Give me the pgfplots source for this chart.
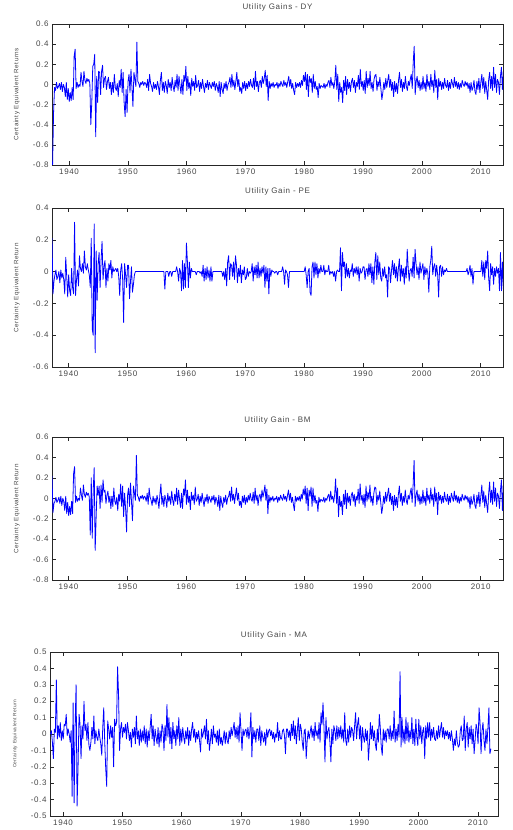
\documentclass[border=0pt]{standalone}
\usepackage{fontspec}
\setmainfont{Liberation Sans}
\newfontfamily\plotfont[LetterSpace=8]{Liberation Sans}
\usepackage{pgfplots}
\usepackage{pgfplotstable}
\pgfplotsset{compat=1.18}
\definecolor{txt}{RGB}{70,70,70}
% values in hundredths, 6 per year (one line per year)
\pgfplotstableread[row sep=\\]{
y\\
-80\\ -28\\ -3\\ -6\\ 2\\ -4\\
-2\\ 1\\ -5\\ 2\\ -7\\ 0\\
-3\\ -12\\ 2\\ -15\\ -4\\ -17\\
-8\\ -16\\ -3\\ -15\\ 28\\ 35\\
-4\\ 2\\ -3\\ 0\\ -2\\ 12\\
3\\ -2\\ 13\\ 4\\ 1\\ 6\\
3\\ 5\\ 1\\ -40\\ -18\\ 18\\
20\\ 30\\ -52\\ 8\\ -18\\ 13\\
12\\ -10\\ 13\\ 19\\ -3\\ 6\\
8\\ -5\\ 3\\ 7\\ -4\\ 2\\
-10\\ 2\\ -8\\ 10\\ -3\\ -6\\
1\\ -12\\ 4\\ -3\\ 15\\ -8\\
12\\ -18\\ -32\\ -5\\ -28\\ 3\\
10\\ -8\\ 15\\ -3\\ -22\\ 12\\
5\\ -2\\ 42\\ 3\\ 1\\ -3\\
2\\ 0\\ 3\\ -1\\ 2\\ 1\\
-3\\ 5\\ -6\\ 10\\ 1\\ -2\\
-7\\ 2\\ -4\\ 0\\ -5\\ 3\\
-2\\ -10\\ 4\\ 12\\ -6\\ 2\\
-8\\ 3\\ -1\\ -9\\ 5\\ -3\\
2\\ -6\\ 7\\ -2\\ -7\\ 4\\
-3\\ 10\\ -6\\ 8\\ -1\\ -9\\
5\\ -10\\ 9\\ 3\\ 18\\ -6\\
8\\ -4\\ 2\\ -11\\ 6\\ -2\\
3\\ -6\\ 9\\ -3\\ -1\\ 4\\
-7\\ 2\\ -4\\ 5\\ -2\\ -8\\
1\\ -3\\ 4\\ -5\\ 2\\ -1\\
-4\\ 2\\ -2\\ 3\\ -6\\ 1\\
-2\\ -8\\ 3\\ -12\\ 2\\ -5\\
-9\\ 1\\ -4\\ 3\\ -6\\ 0\\
2\\ 7\\ -3\\ 10\\ -2\\ 4\\
-5\\ 3\\ 12\\ -2\\ 5\\ -7\\
-3\\ -9\\ 2\\ -4\\ 3\\ -6\\
1\\ -4\\ 3\\ -2\\ 5\\ -1\\
-3\\ 6\\ -5\\ 13\\ -2\\ 3\\
-7\\ 2\\ 4\\ -3\\ 8\\ 1\\
6\\ 14\\ -2\\ 9\\ -16\\ 3\\
-4\\ 1\\ -2\\ 2\\ -3\\ 0\\
-1\\ 2\\ -4\\ 1\\ -2\\ 3\\
0\\ -2\\ 4\\ -1\\ 2\\ -3\\
3\\ 8\\ -2\\ 5\\ -4\\ 1\\
-6\\ -10\\ 2\\ -3\\ 1\\ -2\\
2\\ -3\\ 4\\ -1\\ 9\\ 3\\
12\\ -5\\ 10\\ -12\\ 8\\ 2\\
6\\ -8\\ 10\\ -4\\ 3\\ -5\\
-2\\ -13\\ 1\\ -4\\ -1\\ -2\\
-3\\ 1\\ -4\\ 0\\ -2\\ 2\\
4\\ -3\\ 7\\ -1\\ 2\\ -4\\
3\\ 19\\ -5\\ 10\\ -17\\ 2\\
-8\\ -3\\ -18\\ 4\\ -6\\ 8\\
-10\\ 5\\ -4\\ 2\\ -7\\ 3\\
6\\ -3\\ 4\\ -8\\ 2\\ -2\\
9\\ -5\\ 15\\ -2\\ 3\\ -6\\
4\\ -9\\ 13\\ -3\\ 6\\ -1\\
13\\ -4\\ 2\\ -7\\ 5\\ 9\\
10\\ -6\\ 3\\ -2\\ 7\\ -4\\
-15\\ -8\\ 2\\ -5\\ 6\\ -3\\
4\\ 10\\ -3\\ 5\\ -6\\ 2\\
-12\\ 3\\ -7\\ 1\\ -9\\ 4\\
12\\ -3\\ 5\\ -7\\ 2\\ -4\\
8\\ -2\\ -6\\ 3\\ -1\\ 5\\
10\\ -4\\ 22\\ 38\\ -10\\ 3\\
8\\ -3\\ 4\\ -6\\ 2\\ -5\\
8\\ -4\\ 2\\ -7\\ 10\\ -2\\
3\\ -5\\ 10\\ -2\\ 4\\ -8\\
14\\ -3\\ 5\\ -15\\ 6\\ -2\\
3\\ -5\\ 2\\ -4\\ 6\\ -1\\
-3\\ 4\\ -6\\ 2\\ -4\\ 5\\
1\\ -3\\ 7\\ -2\\ 3\\ -4\\
2\\ -5\\ 1\\ -3\\ 4\\ 0\\
-2\\ 3\\ -1\\ 2\\ -4\\ 1\\
-8\\ 2\\ -6\\ -3\\ 4\\ -7\\
-10\\ 3\\ -5\\ 6\\ -8\\ 2\\
10\\ -4\\ 7\\ -9\\ 3\\ -6\\
-15\\ 5\\ 12\\ -4\\ 8\\ -6\\
17\\ -3\\ 10\\ -8\\ 5\\ 2\\
-10\\ 8\\ 17\\ -5\\ 12\\ -12\\
}\dytable
\pgfplotstableread[row sep=\\]{
y\\
21\\ -14\\ -6\\ -2\\ 1\\ -5\\
-3\\ 0\\ -7\\ 1\\ -4\\ -1\\
-5\\ -14\\ 9\\ -3\\ -16\\ -2\\
-12\\ -15\\ 2\\ -10\\ -14\\ 31\\
-15\\ -5\\ 1\\ -9\\ 10\\ 2\\
0\\ 5\\ -1\\ 13\\ 3\\ 1\\
5\\ 1\\ -2\\ -10\\ 21\\ -36\\
-40\\ 30\\ -51\\ 13\\ -18\\ 5\\
12\\ -10\\ 7\\ 19\\ -5\\ 3\\
7\\ -10\\ 2\\ -6\\ 5\\ 1\\
7\\ -4\\ 3\\ 0\\ 1\\ 2\\
0\\ 2\\ -3\\ -15\\ 1\\ 5\\
-5\\ -32\\ 5\\ -2\\ -10\\ 4\\
4\\ -17\\ -6\\ 3\\ -13\\ -8\\
-2\\ 0\\ 0\\ 0\\ 0\\ 0\\
0\\ 0\\ 0\\ 0\\ 0\\ 0\\
0\\ 0\\ 0\\ 0\\ 0\\ 0\\
0\\ 0\\ 0\\ 0\\ 0\\ 0\\
0\\ 0\\ 0\\ 0\\ 0\\ 0\\
0\\ -11\\ 0\\ 0\\ 0\\ -3\\
0\\ 0\\ -3\\ 0\\ 0\\ 0\\
0\\ 3\\ 0\\ -6\\ 2\\ 0\\
-12\\ 7\\ -11\\ 5\\ -10\\ 18\\
6\\ -10\\ 6\\ -4\\ 2\\ 0\\
0\\ 0\\ 0\\ -2\\ 0\\ 0\\
0\\ -1\\ 0\\ -3\\ 4\\ -6\\
2\\ -5\\ 3\\ -4\\ 1\\ -6\\
3\\ -6\\ 0\\ 0\\ 0\\ 0\\
0\\ 0\\ 0\\ 0\\ 0\\ 0\\
-3\\ 0\\ -5\\ 2\\ -9\\ 6\\
10\\ -5\\ 5\\ 4\\ -3\\ 6\\
-5\\ 10\\ 4\\ -7\\ 2\\ -3\\
4\\ -7\\ 1\\ -2\\ 3\\ -5\\
-4\\ 2\\ -3\\ 0\\ -1\\ 0\\
5\\ -6\\ 3\\ -2\\ 4\\ -4\\
6\\ -4\\ 2\\ -3\\ 3\\ -1\\
4\\ -10\\ 3\\ -6\\ 2\\ -14\\
2\\ -3\\ 1\\ 0\\ 0\\ -1\\
0\\ 0\\ -2\\ 0\\ 0\\ 0\\
0\\ 3\\ 0\\ -8\\ 1\\ 0\\
-2\\ -10\\ 0\\ 0\\ 0\\ 0\\
0\\ 0\\ 0\\ 0\\ 0\\ 0\\
0\\ 0\\ 0\\ 0\\ 0\\ 0\\
3\\ -2\\ -10\\ 0\\ 2\\ -13\\
-15\\ 3\\ 6\\ -4\\ 6\\ -2\\
5\\ -4\\ 2\\ -1\\ 4\\ 0\\
0\\ 4\\ -2\\ 1\\ 0\\ 0\\
4\\ -2\\ 0\\ -1\\ 0\\ -3\\
0\\ -6\\ 0\\ 1\\ 0\\ 0\\
15\\ -12\\ 12\\ 3\\ 6\\ -4\\
5\\ -3\\ 2\\ -4\\ 1\\ 0\\
5\\ -3\\ 2\\ -1\\ 3\\ -2\\
3\\ -6\\ 2\\ -1\\ 0\\ 3\\
3\\ -5\\ 1\\ 2\\ -3\\ 5\\
-2\\ 5\\ -7\\ 3\\ -8\\ 6\\
12\\ -5\\ 10\\ -2\\ 6\\ -4\\
-6\\ 2\\ -3\\ 3\\ -4\\ -2\\
-16\\ 3\\ 2\\ -7\\ 1\\ 7\\
-2\\ 5\\ -4\\ 3\\ -6\\ 2\\
8\\ -6\\ 4\\ -3\\ 2\\ -8\\
3\\ -4\\ 14\\ 2\\ -6\\ 1\\
2\\ -3\\ 9\\ -4\\ 14\\ 5\\
-2\\ 3\\ -5\\ 6\\ -1\\ 2\\
5\\ -5\\ 3\\ -2\\ 2\\ -1\\
-13\\ 3\\ 7\\ 16\\ -2\\ 3\\
5\\ -3\\ 4\\ -2\\ -16\\ 3\\
4\\ -3\\ 3\\ -2\\ 1\\ 0\\
2\\ 0\\ 0\\ 0\\ 0\\ 0\\
0\\ 0\\ 0\\ 0\\ 0\\ 0\\
0\\ 0\\ 0\\ 0\\ 0\\ 0\\
0\\ 0\\ 0\\ 2\\ -2\\ 0\\
4\\ -3\\ 2\\ -8\\ 0\\ 0\\
0\\ 0\\ 0\\ 0\\ 0\\ 0\\
7\\ -3\\ 6\\ -5\\ 7\\ 2\\
13\\ -4\\ -12\\ 5\\ -2\\ 3\\
-8\\ 2\\ -3\\ 3\\ -1\\ 2\\
-12\\ 12\\ -12\\ 6\\ -11\\ 6\\
}\petable
\pgfplotstableread[row sep=\\]{
y\\
22\\ -14\\ -5\\ -3\\ 1\\ -4\\
-2\\ 1\\ -5\\ 2\\ -7\\ 0\\
-3\\ -12\\ 2\\ -15\\ -4\\ -17\\
-8\\ -16\\ -3\\ -15\\ 24\\ 31\\
-4\\ 2\\ -3\\ 0\\ -2\\ 10\\
3\\ -2\\ 13\\ 4\\ 1\\ 6\\
3\\ 5\\ 1\\ -36\\ 20\\ -39\\
8\\ 30\\ -51\\ -18\\ 12\\ 3\\
12\\ -10\\ 13\\ -4\\ 18\\ 6\\
8\\ -5\\ 3\\ 7\\ -4\\ 2\\
-10\\ 2\\ -8\\ 10\\ -3\\ -6\\
1\\ -12\\ 4\\ -3\\ 14\\ -8\\
12\\ -18\\ 5\\ -10\\ -33\\ 3\\
10\\ -8\\ 15\\ -3\\ -22\\ 12\\
5\\ -2\\ 42\\ 3\\ 1\\ -3\\
2\\ 0\\ 3\\ -1\\ 2\\ 1\\
-3\\ 5\\ -6\\ 10\\ 1\\ -2\\
-7\\ 2\\ -4\\ 0\\ -6\\ 3\\
-2\\ -10\\ 4\\ 14\\ -6\\ 2\\
-8\\ 3\\ -1\\ -9\\ 5\\ -3\\
2\\ -6\\ 7\\ -2\\ -7\\ 4\\
-3\\ 10\\ -6\\ 8\\ -1\\ -9\\
5\\ -10\\ 9\\ 3\\ 18\\ -6\\
8\\ -4\\ 2\\ -11\\ 6\\ -2\\
3\\ -6\\ 11\\ -3\\ -1\\ 4\\
-7\\ 2\\ -4\\ 5\\ -2\\ -8\\
1\\ -3\\ 4\\ -5\\ 2\\ -1\\
-4\\ 2\\ -2\\ 3\\ -6\\ 1\\
-2\\ -8\\ 3\\ -12\\ 2\\ -5\\
-9\\ 1\\ -4\\ 3\\ -6\\ 0\\
2\\ 7\\ -3\\ 11\\ -2\\ 4\\
-5\\ 3\\ 10\\ -2\\ 5\\ -7\\
-3\\ -9\\ 2\\ -4\\ 3\\ -6\\
1\\ -4\\ 3\\ -2\\ 5\\ -1\\
-3\\ 6\\ -5\\ 10\\ -2\\ 3\\
-7\\ 2\\ 4\\ -3\\ 8\\ 1\\
6\\ 13\\ -2\\ 9\\ -15\\ 3\\
-4\\ 1\\ -2\\ 2\\ -3\\ 0\\
-1\\ 2\\ -4\\ 1\\ -2\\ 3\\
0\\ -2\\ 4\\ -1\\ 2\\ -3\\
3\\ 8\\ -2\\ 5\\ -4\\ 1\\
-6\\ -12\\ 2\\ -3\\ 1\\ -2\\
2\\ -3\\ 4\\ -1\\ 9\\ 3\\
12\\ -5\\ 10\\ -12\\ 8\\ 2\\
11\\ -8\\ 10\\ -4\\ 3\\ -5\\
-2\\ -13\\ 1\\ -4\\ -1\\ -2\\
-3\\ 1\\ -4\\ 0\\ -2\\ 2\\
4\\ -3\\ 7\\ -1\\ 2\\ -4\\
3\\ 19\\ -5\\ 10\\ -18\\ 2\\
-8\\ -3\\ -16\\ 4\\ -6\\ 8\\
-10\\ 5\\ -4\\ 2\\ -7\\ 3\\
6\\ -3\\ 4\\ -8\\ 2\\ -2\\
9\\ -5\\ 14\\ -2\\ 3\\ -6\\
4\\ -9\\ 12\\ -3\\ 6\\ -1\\
13\\ -4\\ 2\\ -7\\ 5\\ 11\\
10\\ -6\\ 3\\ -2\\ 7\\ -4\\
-15\\ -8\\ 2\\ -5\\ 6\\ -3\\
4\\ 10\\ -3\\ 5\\ -6\\ 2\\
-12\\ 3\\ -7\\ 1\\ -9\\ 4\\
12\\ -3\\ 5\\ -7\\ 2\\ -4\\
8\\ -2\\ -6\\ 3\\ -1\\ 5\\
10\\ -4\\ 13\\ 37\\ -8\\ 3\\
8\\ -3\\ 4\\ -6\\ 2\\ -5\\
8\\ -4\\ 2\\ -7\\ 10\\ -2\\
3\\ -5\\ 10\\ -2\\ 4\\ -8\\
11\\ -3\\ 5\\ -16\\ 6\\ -2\\
3\\ -5\\ 2\\ -4\\ 6\\ -1\\
-3\\ 4\\ -6\\ 2\\ -4\\ 5\\
1\\ -3\\ 7\\ -2\\ 3\\ -4\\
2\\ -5\\ 1\\ -3\\ 4\\ 0\\
-2\\ 3\\ -1\\ 2\\ -4\\ 1\\
-10\\ 2\\ -6\\ -3\\ 4\\ -7\\
-10\\ 3\\ -5\\ 6\\ -8\\ 2\\
13\\ -4\\ 7\\ -9\\ 3\\ -6\\
-14\\ 5\\ 16\\ -4\\ 8\\ -6\\
16\\ -3\\ 10\\ -8\\ 5\\ 2\\
-10\\ 8\\ 18\\ -12\\ 12\\ -12\\
}\bmtable
\pgfplotstableread[row sep=\\]{
y\\
0\\ 2\\ -5\\ -15\\ 3\\ 1\\
33\\ -3\\ 5\\ -2\\ 7\\ -4\\
2\\ -3\\ 6\\ 5\\ 12\\ -1\\
3\\ 0\\ -5\\ 2\\ -38\\ 19\\
-42\\ 5\\ 30\\ -44\\ -20\\ 12\\
6\\ -15\\ 5\\ -3\\ 20\\ 2\\
6\\ -4\\ 7\\ -7\\ -10\\ -5\\
4\\ -3\\ 11\\ -6\\ 2\\ -2\\
-4\\ 3\\ -2\\ -6\\ -13\\ 4\\
16\\ -5\\ -21\\ -32\\ 8\\ 3\\
-3\\ 5\\ -2\\ 4\\ -20\\ 9\\
5\\ 7\\ 41\\ 24\\ -10\\ 3\\
7\\ -2\\ 4\\ 1\\ 6\\ -3\\
7\\ 2\\ -4\\ 1\\ -8\\ 3\\
-2\\ 4\\ -6\\ 11\\ -3\\ 2\\
-7\\ 3\\ -5\\ 2\\ -4\\ 5\\
-6\\ 3\\ -8\\ 2\\ -4\\ 4\\
12\\ -3\\ 5\\ -7\\ 3\\ -2\\
-6\\ 4\\ -8\\ 2\\ -5\\ 6\\
3\\ -10\\ 5\\ -4\\ 18\\ -2\\
10\\ -6\\ 4\\ -9\\ 7\\ -3\\
2\\ -7\\ 5\\ -3\\ 10\\ -7\\
3\\ -5\\ 4\\ -2\\ -6\\ 2\\
-3\\ 4\\ -7\\ 2\\ -4\\ 3\\
7\\ -2\\ 3\\ -5\\ 1\\ -3\\
2\\ -4\\ -11\\ 3\\ -2\\ 1\\
5\\ -3\\ 9\\ -6\\ 2\\ -10\\
-4\\ 3\\ -6\\ 5\\ -2\\ 0\\
-5\\ 2\\ -7\\ 3\\ -6\\ -2\\
-7\\ -3\\ 2\\ -6\\ 1\\ -4\\
-6\\ 2\\ -3\\ 4\\ -1\\ 3\\
7\\ -2\\ 4\\ -3\\ 5\\ -5\\
13\\ 2\\ -10\\ 3\\ -1\\ 2\\
3\\ -2\\ 4\\ -3\\ 2\\ 13\\
-14\\ 4\\ -3\\ 2\\ -5\\ 3\\
3\\ -4\\ 5\\ -7\\ 2\\ -2\\
-5\\ 1\\ -7\\ 3\\ -2\\ 2\\
3\\ -1\\ 2\\ -3\\ 1\\ -5\\
0\\ -2\\ 7\\ -4\\ 2\\ -3\\
-3\\ 2\\ 3\\ -1\\ -12\\ 3\\
3\\ -2\\ 2\\ -4\\ 6\\ -1\\
8\\ -3\\ 5\\ -6\\ 2\\ 10\\
-4\\ 6\\ 3\\ -5\\ -10\\ 2\\
3\\ -15\\ -4\\ 2\\ -3\\ 1\\
5\\ -2\\ 3\\ -4\\ 7\\ -1\\
2\\ -3\\ 7\\ -5\\ 13\\ 6\\
19\\ 4\\ -17\\ 10\\ -3\\ 2\\
4\\ -5\\ -17\\ 3\\ -6\\ 5\\
2\\ -4\\ 5\\ -3\\ 4\\ -2\\
5\\ -3\\ 3\\ -5\\ 13\\ -4\\
-7\\ 3\\ -5\\ 5\\ -2\\ 4\\
2\\ -4\\ 5\\ 13\\ -3\\ 6\\
10\\ -3\\ 5\\ -10\\ 4\\ -2\\
-5\\ 3\\ -4\\ 2\\ -16\\ -6\\
7\\ -3\\ 5\\ -4\\ 2\\ -6\\
-10\\ 3\\ -5\\ 12\\ 4\\ -8\\
-13\\ 3\\ -4\\ 2\\ -5\\ 3\\
3\\ -3\\ 5\\ -4\\ 2\\ -3\\
14\\ -5\\ 3\\ -4\\ 6\\ -2\\
38\\ -8\\ 10\\ -5\\ 3\\ -6\\
10\\ -4\\ 7\\ -5\\ 2\\ -3\\
10\\ -6\\ 3\\ -7\\ 9\\ -2\\
-7\\ 9\\ -3\\ 5\\ -6\\ 2\\
4\\ -15\\ 5\\ -3\\ 7\\ -2\\
7\\ -4\\ 3\\ -2\\ 4\\ -3\\
-4\\ 2\\ -3\\ 5\\ -2\\ 3\\
7\\ -2\\ 4\\ -3\\ 2\\ -1\\
2\\ -3\\ 1\\ -4\\ 2\\ -3\\
-10\\ -3\\ -7\\ 2\\ -5\\ -8\\
-7\\ 2\\ 5\\ -4\\ -3\\ 11\\
-10\\ 3\\ 7\\ -8\\ 4\\ -3\\
5\\ -6\\ 3\\ -12\\ -4\\ 6\\
3\\ -6\\ 16\\ 7\\ -12\\ 2\\
7\\ -4\\ -10\\ 3\\ -6\\ 4\\
16\\ -12\\ -9\\
}\matable
\pgfplotsset{
  ug/.style={
    scale only axis,
    anchor=south west,
    clip=true,
    axis line style={black!85, line width=0.5pt},
    every tick/.style={black!85, line width=0.4pt},
    major tick length=4pt,
    tick align=inside,
    /pgf/number format/assume math mode=true,
    tick label style={font=\plotfont\fontsize{8}{9}\selectfont, text=txt},
    xticklabel style={/pgf/number format/1000 sep={}},
    xtick={1940,1950,1960,1970,1980,1990,2000,2010},
    title style={font=\plotfont\fontsize{8}{9}\selectfont, text=txt, at={(0.5,1)}, anchor=south, yshift=3pt},
    ylabel style={font=\plotfont\fontsize{6.3}{7}\selectfont, text=txt, at={(axis description cs:-0.078,0.5)}, anchor=center},
  },
  ser/.style={color={rgb,255:red,0;green,0;blue,255}, line width=0.8pt, line join=round},
}
\begin{document}
\begin{tikzpicture}
\path[use as bounding box] (0pt,0pt) rectangle (512pt,830pt);
\begin{axis}[ug, at={(52pt,665pt)}, width=451pt, height=141pt,
  xmin=1937.1, xmax=2013.8, ymin=-0.8, ymax=0.6,
  ytick={-0.8,-0.6,-0.4,-0.2,0,0.2,0.4,0.6},
  title={Utility Gains - DY}, ylabel={Certainty Equivalent Returns}]
\addplot[ser] table[x index=0, y index=0, x expr=1937.2+\coordindex/6, y expr=\thisrowno{0}/100] {\dytable};
\end{axis}
\begin{axis}[ug, at={(52pt,463pt)}, width=451pt, height=159pt,
  xmin=1937.2, xmax=2013.8, ymin=-0.6, ymax=0.4,
  ytick={-0.6,-0.4,-0.2,0,0.2,0.4},
  title={Utility Gain - PE}, ylabel={Certainty Equivalent Return}]
\addplot[ser] table[x index=0, y index=0, x expr=1937.2+\coordindex/6, y expr=\thisrowno{0}/100] {\petable};
\end{axis}
\begin{axis}[ug, at={(52pt,250pt)}, width=451pt, height=143pt,
  xmin=1937.2, xmax=2013.8, ymin=-0.8, ymax=0.6,
  ytick={-0.8,-0.6,-0.4,-0.2,0,0.2,0.4,0.6},
  title={Utility Gain - BM}, ylabel={Certainty Equivalent Return}]
\addplot[ser] table[x index=0, y index=0, x expr=1937.2+\coordindex/6, y expr=\thisrowno{0}/100] {\bmtable};
\end{axis}
\begin{axis}[ug, at={(50pt,14pt)}, width=448pt, height=164pt,
  xmin=1937.8, xmax=2013.4, ymin=-0.5, ymax=0.5,
  ytick={-0.5,-0.4,-0.3,-0.2,-0.1,0,0.1,0.2,0.3,0.4,0.5},
  title={Utility Gain - MA}, ylabel={Certainty Equivalent Return},
  ylabel style={font=\plotfont\fontsize{4.8}{5}\selectfont, at={(axis description cs:-0.078,0.5)}}]
\addplot[ser] table[x index=0, y index=0, x expr=1937.87+\coordindex/6, y expr=\thisrowno{0}/100] {\matable};
\end{axis}
\end{tikzpicture}
\end{document}
